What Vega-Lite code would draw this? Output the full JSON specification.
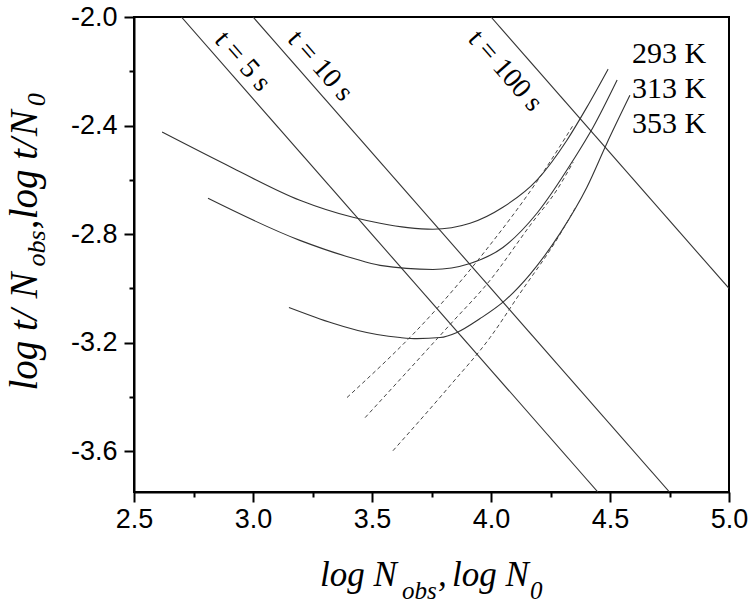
{
  "$schema": "https://vega.github.io/schema/vega-lite/v6.json",
  "width": 595,
  "height": 475,
  "autosize": {"type": "none"},
  "padding": {"left": 134, "top": 17, "right": 22, "bottom": 111},
  "background": "white",
  "config": {
    "view": {"stroke": "black", "strokeWidth": 2},
    "axis": {
      "domainColor": "black", "domainWidth": 2, "tickColor": "black", "tickWidth": 2,
      "labelFont": "Liberation Sans", "labelFontSize": 27, "labelColor": "black", "grid": false
    }
  },
  "datasets": {
    "curves": [
      {"series": "t5", "kind": "solid", "x": 2.699, "y": -2.0},
      {"series": "t5", "kind": "solid", "x": 4.449, "y": -3.75},
      {"series": "t10", "kind": "solid", "x": 3.0, "y": -2.0},
      {"series": "t10", "kind": "solid", "x": 4.75, "y": -3.75},
      {"series": "t100", "kind": "solid", "x": 4.0, "y": -2.0},
      {"series": "t100", "kind": "solid", "x": 5.0, "y": -3.0},
      {"series": "293K", "kind": "solid", "x": 2.618, "y": -2.424},
      {"series": "293K", "kind": "solid", "x": 2.916, "y": -2.557},
      {"series": "293K", "kind": "solid", "x": 3.197, "y": -2.675},
      {"series": "293K", "kind": "solid", "x": 3.420, "y": -2.738},
      {"series": "293K", "kind": "solid", "x": 3.534, "y": -2.760},
      {"series": "293K", "kind": "solid", "x": 3.650, "y": -2.776},
      {"series": "293K", "kind": "solid", "x": 3.756, "y": -2.782},
      {"series": "293K", "kind": "solid", "x": 3.912, "y": -2.760},
      {"series": "293K", "kind": "solid", "x": 4.050, "y": -2.701},
      {"series": "293K", "kind": "solid", "x": 4.193, "y": -2.601},
      {"series": "293K", "kind": "solid", "x": 4.319, "y": -2.454},
      {"series": "293K", "kind": "solid", "x": 4.403, "y": -2.332},
      {"series": "293K", "kind": "solid", "x": 4.492, "y": -2.192},
      {"series": "313K", "kind": "solid", "x": 2.811, "y": -2.668},
      {"series": "313K", "kind": "solid", "x": 3.197, "y": -2.823},
      {"series": "313K", "kind": "solid", "x": 3.420, "y": -2.889},
      {"series": "313K", "kind": "solid", "x": 3.534, "y": -2.915},
      {"series": "313K", "kind": "solid", "x": 3.756, "y": -2.930},
      {"series": "313K", "kind": "solid", "x": 3.912, "y": -2.908},
      {"series": "313K", "kind": "solid", "x": 4.050, "y": -2.849},
      {"series": "313K", "kind": "solid", "x": 4.193, "y": -2.723},
      {"series": "313K", "kind": "solid", "x": 4.345, "y": -2.528},
      {"series": "313K", "kind": "solid", "x": 4.429, "y": -2.406},
      {"series": "313K", "kind": "solid", "x": 4.530, "y": -2.232},
      {"series": "353K", "kind": "solid", "x": 3.151, "y": -3.070},
      {"series": "353K", "kind": "solid", "x": 3.521, "y": -3.170},
      {"series": "353K", "kind": "solid", "x": 3.618, "y": -3.181},
      {"series": "353K", "kind": "solid", "x": 3.689, "y": -3.185},
      {"series": "353K", "kind": "solid", "x": 3.786, "y": -3.181},
      {"series": "353K", "kind": "solid", "x": 3.857, "y": -3.162},
      {"series": "353K", "kind": "solid", "x": 3.954, "y": -3.111},
      {"series": "353K", "kind": "solid", "x": 4.059, "y": -3.044},
      {"series": "353K", "kind": "solid", "x": 4.164, "y": -2.948},
      {"series": "353K", "kind": "solid", "x": 4.290, "y": -2.797},
      {"series": "353K", "kind": "solid", "x": 4.403, "y": -2.627},
      {"series": "353K", "kind": "solid", "x": 4.487, "y": -2.465},
      {"series": "353K", "kind": "solid", "x": 4.584, "y": -2.288},
      {"series": "dA", "kind": "dashed", "x": 3.395, "y": -3.402},
      {"series": "dA", "kind": "dashed", "x": 3.773, "y": -3.074},
      {"series": "dA", "kind": "dashed", "x": 3.975, "y": -2.863},
      {"series": "dA", "kind": "dashed", "x": 4.197, "y": -2.601},
      {"series": "dA", "kind": "dashed", "x": 4.345, "y": -2.399},
      {"series": "dB", "kind": "dashed", "x": 3.471, "y": -3.476},
      {"series": "dB", "kind": "dashed", "x": 3.828, "y": -3.133},
      {"series": "dB", "kind": "dashed", "x": 3.996, "y": -2.970},
      {"series": "dB", "kind": "dashed", "x": 4.164, "y": -2.768},
      {"series": "dB", "kind": "dashed", "x": 4.282, "y": -2.630},
      {"series": "dB", "kind": "dashed", "x": 4.345, "y": -2.535},
      {"series": "dC", "kind": "dashed", "x": 3.588, "y": -3.598},
      {"series": "dC", "kind": "dashed", "x": 3.828, "y": -3.358},
      {"series": "dC", "kind": "dashed", "x": 3.996, "y": -3.181},
      {"series": "dC", "kind": "dashed", "x": 4.122, "y": -3.018},
      {"series": "dC", "kind": "dashed", "x": 4.282, "y": -2.812},
      {"series": "dC", "kind": "dashed", "x": 4.353, "y": -2.705}
    ],
    "tlabels": [
      {"label": "t = 5 s", "x": 2.956, "y": -2.164},
      {"label": "t = 10 s", "x": 3.282, "y": -2.181},
      {"label": "t = 100 s", "x": 4.059, "y": -2.199}
    ],
    "klabels": [
      {"label": "293 K", "x": 4.592, "y": -2.170},
      {"label": "313 K", "x": 4.592, "y": -2.299},
      {"label": "353 K", "x": 4.592, "y": -2.428}
    ],
    "xtitle_main": [
      {"text": "log N", "x": 3.2815, "y": -4.096},
      {"text": ",", "x": 3.777, "y": -4.096},
      {"text": "log N", "x": 3.836, "y": -4.096}
    ],
    "xtitle_sub": [
      {"text": "obs", "x": 3.626, "y": -4.144},
      {"text": "0", "x": 4.164, "y": -4.144}
    ],
    "ytitle_main": [
      {"text": "log t/", "x": 2.0924, "y": -3.3764},
      {"text": "N", "x": 2.0924, "y": -3.0369},
      {"text": ",", "x": 2.0924, "y": -2.7823},
      {"text": "log t/", "x": 2.0924, "y": -2.7454},
      {"text": "N", "x": 2.0924, "y": -2.4391}
    ],
    "ytitle_sub": [
      {"text": "obs", "x": 2.1261, "y": -2.9188},
      {"text": "0", "x": 2.1261, "y": -2.3284}
    ]
  },
  "encoding": {
    "x": {
      "field": "x", "type": "quantitative",
      "scale": {"domain": [2.5, 5.0], "nice": false, "zero": false},
      "axis": {
        "title": null,
        "values": [2.5, 2.75, 3.0, 3.25, 3.5, 3.75, 4.0, 4.25, 4.5, 4.75, 5.0],
        "labelExpr": "abs(datum.value*2 - round(datum.value*2)) < 0.01 ? format(datum.value, '.1f') : ''",
        "tickSize": {"condition": {"test": "abs(datum.value*2 - round(datum.value*2)) > 0.01", "value": 5}, "value": 10},
        "labelPadding": 4,
        "labelFlush": false,
        "labelOverlap": false
      }
    },
    "y": {
      "field": "y", "type": "quantitative",
      "scale": {"domain": [-3.75, -2.0], "nice": false, "zero": false},
      "axis": {
        "title": null,
        "values": [-3.6, -3.4, -3.2, -3.0, -2.8, -2.6, -2.4, -2.2, -2.0],
        "labelExpr": "abs(datum.value*2.5 - round(datum.value*2.5)) < 0.01 ? replace(format(datum.value, '.1f'), '\u2212', '-') : ''",
        "tickSize": {"condition": {"test": "abs(datum.value*2.5 - round(datum.value*2.5)) > 0.01", "value": 5}, "value": 10},
        "labelPadding": 7,
        "labelFlush": false,
        "labelOverlap": false
      }
    }
  },
  "layer": [
    {
      "data": {"name": "curves"},
      "transform": [{"filter": "datum.kind == 'solid'"}],
      "mark": {"type": "line", "interpolate": "monotone", "color": "#333333", "strokeWidth": 1.1, "clip": true},
      "encoding": {"detail": {"field": "series"}}
    },
    {
      "data": {"name": "curves"},
      "transform": [{"filter": "datum.kind == 'dashed'"}],
      "mark": {"type": "line", "interpolate": "monotone", "color": "#444444", "strokeWidth": 1, "strokeDash": [4, 3], "clip": true},
      "encoding": {"detail": {"field": "series"}}
    },
    {
      "data": {"name": "tlabels"},
      "mark": {"type": "text", "angle": 48.76, "font": "Liberation Serif", "fontSize": 28, "align": "center", "baseline": "middle", "color": "black"},
      "encoding": {"text": {"field": "label"}}
    },
    {
      "data": {"name": "klabels"},
      "mark": {"type": "text", "font": "Liberation Serif", "fontSize": 30, "align": "left", "baseline": "alphabetic", "color": "black"},
      "encoding": {"text": {"field": "label"}}
    },
    {
      "data": {"name": "xtitle_main"},
      "mark": {"type": "text", "font": "Liberation Serif", "fontStyle": "italic", "fontSize": 35, "align": "left", "baseline": "alphabetic", "color": "black"},
      "encoding": {"text": {"field": "text"}}
    },
    {
      "data": {"name": "xtitle_sub"},
      "mark": {"type": "text", "font": "Liberation Serif", "fontStyle": "italic", "fontSize": 25, "align": "left", "baseline": "alphabetic", "color": "black"},
      "encoding": {"text": {"field": "text"}}
    },
    {
      "data": {"name": "ytitle_main"},
      "mark": {"type": "text", "angle": 270, "font": "Liberation Serif", "fontStyle": "italic", "fontSize": 39, "align": "left", "baseline": "alphabetic", "color": "black"},
      "encoding": {"text": {"field": "text"}}
    },
    {
      "data": {"name": "ytitle_sub"},
      "mark": {"type": "text", "angle": 270, "font": "Liberation Serif", "fontStyle": "italic", "fontSize": 26, "align": "left", "baseline": "alphabetic", "color": "black"},
      "encoding": {"text": {"field": "text"}}
    }
  ]
}
